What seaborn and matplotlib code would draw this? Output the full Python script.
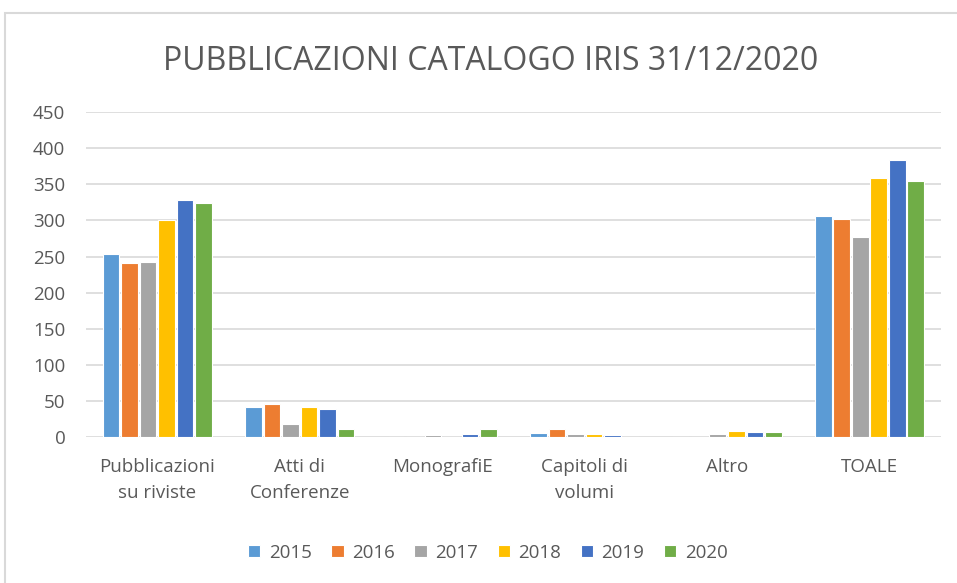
import pandas as pd
import seaborn as sns
import matplotlib.pyplot as plt
from matplotlib.patches import Rectangle

categories = ['Pubblicazioni\nsu riviste', 'Atti di\nConferenze', 'MonografiE',
              'Capitoli di\nvolumi', 'Altro', 'TOALE']
years = ['2015', '2016', '2017', '2018', '2019', '2020']

v2015 = [254, 42, 0, 6, 0, 306]
v2016 = [241, 46, 0, 12, 0, 302]
v2017 = [243, 18, 3, 5, 5, 277]
v2018 = [301, 42, 0, 5, 9, 359]
v2019 = [328, 39, 5, 3, 7, 384]
v2020 = [324, 12, 11, 0, 7, 354]

colors = ['#5B9BD5', '#ED7D31', '#A5A5A5', '#FFC000', '#4472C4', '#70AD47']

rows = []
for year, vals in zip(years, [v2015, v2016, v2017, v2018, v2019, v2020]):
    for cat, v in zip(categories, vals):
        rows.append({'cat': cat, 'year': year, 'value': v})
df = pd.DataFrame(rows)

sns.set_style('white')
plt.rcParams['font.family'] = ['Open Sans', 'DejaVu Sans']
text_color = '#595959'

fig = plt.figure(figsize=(9.57, 5.83), dpi=100)
ax = fig.add_axes([0.09, 0.25, 0.893, 0.558])

sns.barplot(data=df, x='cat', y='value', hue='year', palette=colors, saturation=1,
            width=0.78, gap=0.1, edgecolor='white', linewidth=0.8, ax=ax)

ax.set_ylim(0, 450)
ax.set_yticks(range(0, 451, 50))
ax.yaxis.grid(True, color='#d9d9d9', linewidth=1.2)
ax.set_axisbelow(True)
for s in ['top', 'right', 'left', 'bottom']:
    ax.spines[s].set_visible(False)
ax.set_xlabel('')
ax.set_ylabel('')
ax.tick_params(axis='both', length=0, labelsize=13.5, labelcolor=text_color)
ax.tick_params(axis='x', pad=15)
ax.tick_params(axis='y', pad=15)
for lbl in ax.get_xticklabels():
    lbl.set_linespacing(1.55)

fig.text(0.513, 0.895, 'PUBBLICAZIONI CATALOGO IRIS 31/12/2020', ha='center',
         va='center', fontsize=23, color=text_color)

leg = ax.legend(loc='center', bbox_to_anchor=(0.47, -0.355), ncol=6, frameon=False,
                fontsize=13.5, handlelength=0.65, handleheight=0.65,
                handletextpad=0.45, columnspacing=1.05)
for t in leg.get_texts():
    t.set_color(text_color)

fig.patches.append(Rectangle((0.005, -0.01), 1.2, 0.988, transform=fig.transFigure,
                             fill=False, edgecolor='#d9d9d9', linewidth=1.5))

fig.savefig('out.png', dpi=100)
